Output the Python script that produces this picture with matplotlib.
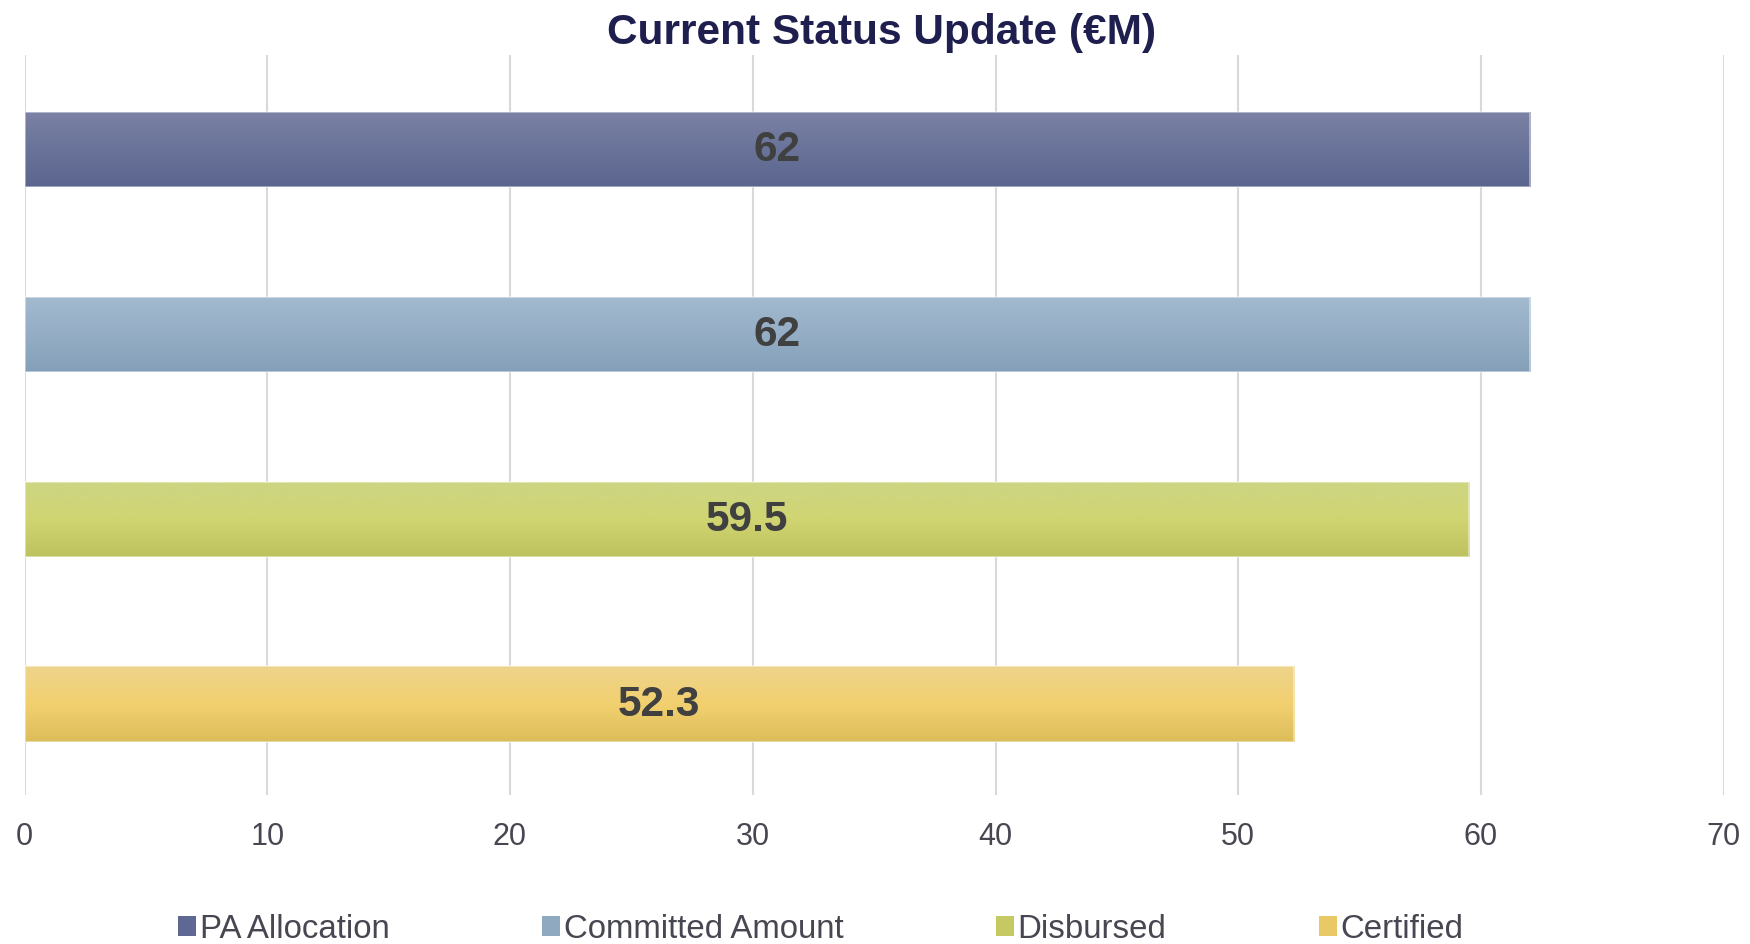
import numpy as np
import matplotlib
matplotlib.use('Agg')
import matplotlib.pyplot as plt
from matplotlib.colors import LinearSegmentedColormap
from matplotlib.patches import Patch

plt.rcParams['font.family'] = ['Liberation Sans', 'DejaVu Sans']

# data
series = ['PA Allocation', 'Committed Amount', 'Disbursed', 'Certified']
values = [62, 62, 59.5, 52.3]
labels = ['62', '62', '59.5', '52.3']

# gradient colours (top, middle, bottom) for each bar
grads = [
    ['#7b82a4', '#6a7399', '#5b658e'],
    ['#a3bace', '#95aec6', '#849fb8'],
    ['#cdd583', '#d0d572', '#bdc25f'],
    ['#eed48c', '#f2d06f', '#dbbd5a'],
]
legend_colors = ['#5e6892', '#8fa9c0', '#c4c964', '#e9c965']

fig = plt.figure(figsize=(17.5, 9.45), dpi=100)
ax = fig.add_axes([0.014, 0.158, 0.971, 0.783])

ypos = np.arange(len(series))[::-1]
bars = ax.barh(ypos - 0.012, values, height=0.41, color='none', zorder=2)

for bar, g, val, lab in zip(bars, grads, values, labels):
    x0, y0 = bar.get_x(), bar.get_y()
    w, h = bar.get_width(), bar.get_height()
    cmap = LinearSegmentedColormap.from_list('g', g[::-1])
    grad = np.linspace(0, 1, 256).reshape(-1, 1)
    im = ax.imshow(grad, cmap=cmap, aspect='auto', origin='lower',
                   extent=[x0, x0 + w, y0, y0 + h], zorder=2)
    im.set_clip_path(bar)
    ax.add_patch(plt.Rectangle((x0, y0), w, h, fill=False,
                               edgecolor=(1, 1, 1, 0.5), lw=1.2, zorder=3))
    ax.text(x0 + w / 2, y0 + h / 2, lab, ha='center', va='center',
            fontsize=30.5, fontweight='bold', color='#404040', zorder=4)

ax.set_xlim(0, 70)
ax.set_ylim(-0.5, 3.5)
ax.set_xticks(np.arange(0, 71, 10))
ax.set_yticks([])
ax.grid(axis='x', color='#d9d9d9', lw=1.5, zorder=0)
ax.set_axisbelow(True)
for s in ax.spines.values():
    s.set_visible(False)
ax.tick_params(axis='x', length=0, pad=19, labelsize=22, labelcolor='#474752')

fig.text(0.504, 0.965, 'Current Status Update (€M)', ha='center', va='center',
         fontsize=30.5, fontweight='bold', color='#1f1f4f')

handles = [Patch(facecolor=c, edgecolor='none') for c in legend_colors]
fig.legend(handles, series, loc='center', bbox_to_anchor=(0.469, 0.016),
           ncol=4, frameon=False, fontsize=23.8, labelcolor='#474752',
           handlelength=0.55, handleheight=0.55, handletextpad=0.12,
           columnspacing=4.6)

fig.savefig('out.png', dpi=100)
